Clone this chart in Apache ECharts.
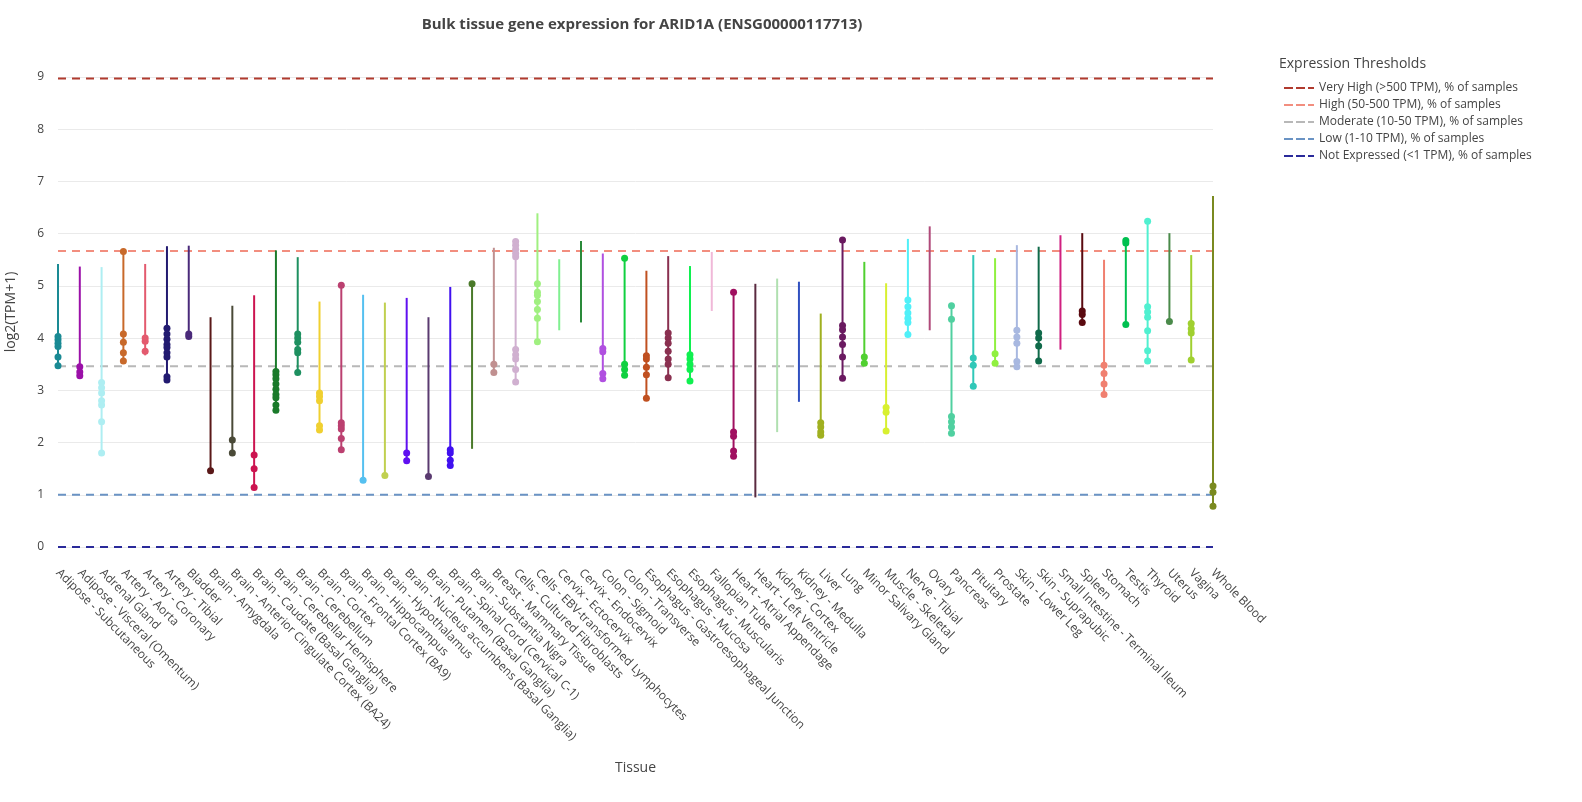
<!DOCTYPE html>
<html><head><meta charset="utf-8">
<script src="https://cdn.jsdelivr.net/npm/echarts@6/dist/echarts.min.js"></script>
<style>html,body{margin:0;padding:0;background:#fff}#c{width:1582px;height:802px}</style>
</head><body><div id="c"></div>
<script>
const tissues = ["Adipose - Subcutaneous","Adipose - Visceral (Omentum)","Adrenal Gland","Artery - Aorta","Artery - Coronary","Artery - Tibial","Bladder","Brain - Amygdala","Brain - Anterior Cingulate Cortex (BA24)","Brain - Caudate (Basal Ganglia)","Brain - Cerebellar Hemisphere","Brain - Cerebellum","Brain - Cortex","Brain - Frontal Cortex (BA9)","Brain - Hippocampus","Brain - Hypothalamus","Brain - Nucleus accumbens (Basal Ganglia)","Brain - Putamen (Basal Ganglia)","Brain - Spinal Cord (Cervical C-1)","Brain - Substantia Nigra","Breast - Mammary Tissue","Cells - Cultured Fibroblasts","Cells - EBV-transformed Lymphocytes","Cervix - Ectocervix","Cervix - Endocervix","Colon - Sigmoid","Colon - Transverse","Esophagus - Gastroesophageal Junction","Esophagus - Mucosa","Esophagus - Muscularis","Fallopian Tube","Heart - Atrial Appendage","Heart - Left Ventricle","Kidney - Cortex","Kidney - Medulla","Liver","Lung","Minor Salivary Gland","Muscle - Skeletal","Nerve - Tibial","Ovary","Pancreas","Pituitary","Prostate","Skin - Lower Leg","Skin - Suprapubic","Small Intestine - Terminal Ileum","Spleen","Stomach","Testis","Thyroid","Uterus","Vagina","Whole Blood"];
const mins = [3.45,3.26,1.80,3.52,3.67,3.18,4.03,1.45,1.78,1.12,2.58,3.32,2.22,1.85,1.25,1.35,1.64,1.33,1.54,1.88,3.32,3.12,3.90,4.15,4.30,3.20,3.26,2.82,3.20,3.15,4.52,1.72,0.95,2.20,2.78,2.10,3.20,3.50,2.18,4.03,4.15,2.15,3.05,3.48,3.42,3.53,3.78,4.27,2.88,4.23,3.55,4.28,3.55,0.78];
const maxs = [5.42,5.37,5.36,5.68,5.42,5.76,5.77,4.40,4.62,4.82,5.68,5.55,4.70,5.01,4.83,4.68,4.77,4.40,4.98,5.03,5.73,5.88,6.39,5.51,5.86,5.62,5.52,5.29,5.57,5.38,5.65,4.86,5.04,5.14,5.08,4.47,5.88,5.46,5.05,5.90,6.14,4.60,5.59,5.53,5.78,5.75,5.97,6.01,5.50,5.88,6.24,6.01,5.59,6.72];
const outliers = [
[4.03,3.97,3.90,3.84,3.64,3.47],[3.45,3.35,3.28],[3.15,3.05,2.95,2.80,2.72,2.40,1.80],[5.66,4.08,3.92,3.72,3.56],[4.00,3.94,3.75],
[4.19,4.08,3.98,3.88,3.82,3.72,3.64,3.26,3.20],[4.08,4.03],[1.46],[2.05,1.80],[1.76,1.50,1.14],
[3.36,3.30,3.22,3.12,3.02,2.92,2.86,2.72,2.62],[4.08,4.00,3.92,3.78,3.72,3.34],[2.95,2.88,2.80,2.32,2.24],[5.01,2.38,2.32,2.26,2.08,1.86],[1.28],
[1.37],[1.80,1.65],[1.35],[1.86,1.80,1.66,1.56],[5.04],
[3.50,3.34],[5.85,5.78,5.70,5.62,5.56,3.78,3.68,3.60,3.40,3.16],[5.04,4.88,4.82,4.70,4.55,4.38,3.93],[],[],
[3.80,3.74,3.32,3.22],[5.53,3.50,3.40,3.29],[3.66,3.60,3.44,3.30,2.85],[4.10,4.00,3.90,3.75,3.60,3.50,3.24],[3.68,3.60,3.50,3.40,3.18],
[],[4.88,2.20,2.12,1.84,1.74],[],[],[],
[2.38,2.30,2.20,2.14],[5.88,4.24,4.16,4.02,3.88,3.64,3.23],[3.64,3.52],[2.67,2.58,2.22],[4.73,4.60,4.48,4.38,4.30,4.07],
[],[4.62,4.36,2.50,2.40,2.30,2.18],[3.62,3.48,3.08],[3.70,3.52],[4.15,4.02,3.90,3.55,3.45],
[4.10,4.00,3.85,3.56],[],[4.52,4.45,4.30],[3.48,3.32,3.12,2.92],[5.87,5.82,4.26],
[6.24,4.60,4.50,4.40,4.14,3.76,3.56],[4.32],[4.28,4.18,4.10,3.58],[1.17,1.05,0.78]];
const colors = ["#1a8a94","#9b10a8","#aeeef2","#c8692a","#e35a6e","#221a70","#4a2a7a","#5a1818","#4a4a38","#cc1450","#1a7a2a","#1e9060","#f0d030","#bb4070","#55c0f0","#c0d050","#6010f0","#5a3a70","#4010f0","#4a7a2a","#c09090","#d0b0d0","#a0f080","#80f090","#2a8a3a","#b050e0","#10d040","#c05020","#8a3050","#10f050","#f0b8d8","#a01060","#5a2a40","#b0e0b0","#3050c0","#a0b020","#6a1a60","#50d030","#d8f030","#50f0f8","#b04a7a","#50d0a0","#30c8b8","#90f040","#a8b8e0","#106a4a","#d02080","#5a0a10","#f08070","#00c050","#50f0d0","#4a8a4a","#a0d030","#7a8a20"];
const thresholdNames = ["Very High (>500 TPM), % of samples","High (50-500 TPM), % of samples","Moderate (10-50 TPM), % of samples","Low (1-10 TPM), % of samples","Not Expressed (<1 TPM), % of samples"];
const thresholdValues = [8.97,5.67,3.46,1.0,0.0];
const thresholdColors = ["#b03a2e","#f28e7f","#b8b8b8","#6a93c4","#2a2a9a"];

const last = tissues[tissues.length-1];
const series = thresholdNames.map((n,i)=>({
  name:n, type:'line', symbol:'none', z:1,
  lineStyle:{type:[8,6],width:2,color:thresholdColors[i]}, itemStyle:{color:thresholdColors[i]},
  data:[[tissues[0],thresholdValues[i]],[last,thresholdValues[i]]], silent:true
}));
series.push({
  type:'custom', z:3,
  data: tissues.map((t,i)=>[i,mins[i],maxs[i]]),
  renderItem:(params,api)=>{
    const i=api.value(0);
    const a=api.coord([i,api.value(1)]), b=api.coord([i,api.value(2)]);
    return {type:'line',shape:{x1:a[0],y1:a[1],x2:b[0],y2:b[1]},style:{stroke:colors[i],lineWidth:2}};
  }
});
const pts=[];
outliers.forEach((arr,i)=>arr.forEach(v=>pts.push([i,v])));
series.push({type:'scatter',z:4,symbolSize:7,data:pts,itemStyle:{opacity:1,color:p=>colors[p.data[0]]}});

const chart=echarts.init(document.getElementById('c'));
chart.setOption({
  animation:false,
  title:{text:'Bulk tissue gene expression for ARID1A (ENSG00000117713)',left:637,top:12,textAlign:'center',
    textStyle:{fontSize:15,fontWeight:'bold',color:'#444',fontFamily:'Open Sans'}},
  graphic:[{type:'text',left:1279,top:57,style:{text:'Expression Thresholds',fontSize:14,fill:'#444',fontFamily:'Open Sans'}}],
  legend:{orient:'vertical',left:1279,top:77,itemGap:5,itemWidth:30,itemHeight:14,
    icon:'path://M0,6h9v2h-9z M12,6h9v2h-9z M24,6h6v2h-6z',
    data:thresholdNames,textStyle:{fontSize:12,color:'#444',fontFamily:'Open Sans'}},
  grid:{left:58,right:369,top:77,bottom:255,outerBoundsMode:'none',containLabel:false},
  xAxis:{type:'category',data:tissues,boundaryGap:false,
    name:'Tissue',nameLocation:'middle',nameGap:214,nameTextStyle:{fontSize:14,color:'#444',fontFamily:'Open Sans'},
    axisLine:{show:false},axisTick:{show:false},
    axisLabel:{interval:0,rotate:-45,fontSize:12,color:'#444',fontFamily:'Open Sans',margin:24},
    splitLine:{show:false}},
  yAxis:{type:'value',min:0,max:9,interval:1,
    name:'log2(TPM+1)',nameLocation:'middle',nameGap:40,nameTextStyle:{fontSize:14,color:'#444',fontFamily:'Open Sans'},
    axisLine:{show:false},axisTick:{show:false},
    axisLabel:{fontSize:12,color:'#444',fontFamily:'Open Sans',margin:14},
    splitLine:{lineStyle:{color:'#eaeaea'}}},
  series
});
</script></body></html>
